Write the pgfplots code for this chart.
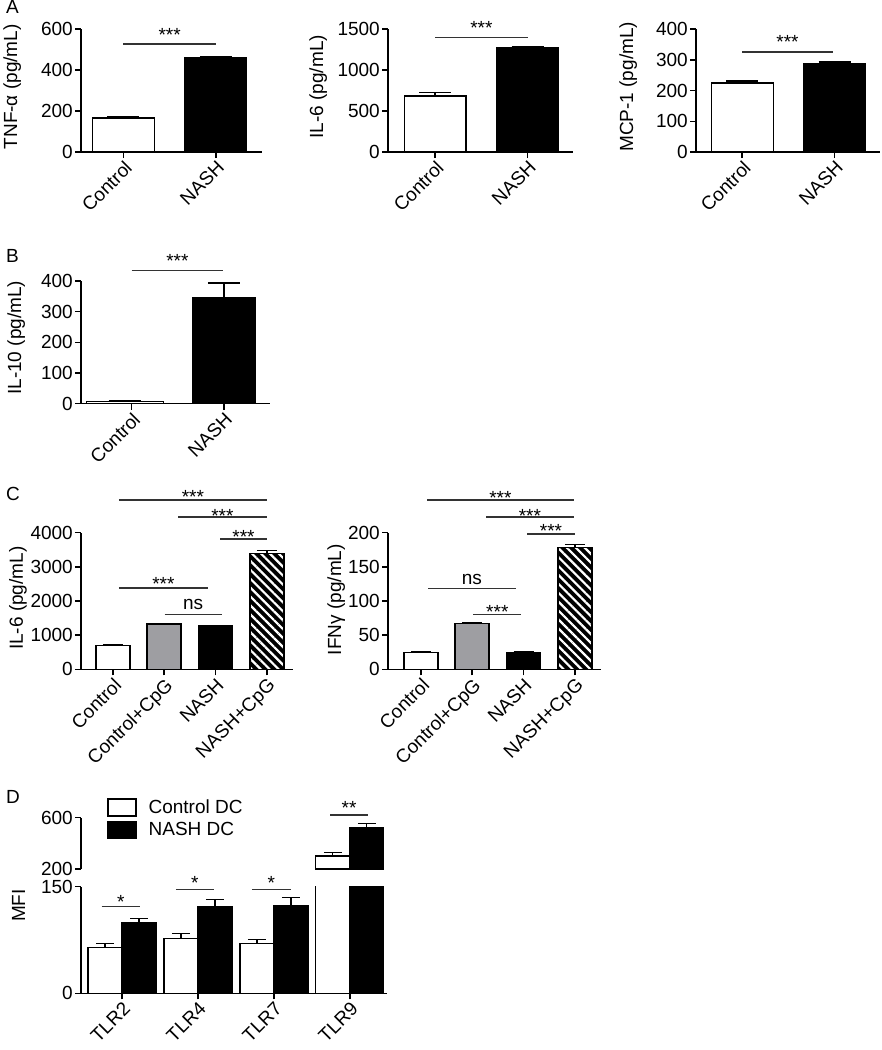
\documentclass[border=0pt]{standalone}
\usepackage{fontspec}
\setmainfont{Liberation Sans}
\usepackage{pgfplots}
\pgfplotsset{compat=1.18}
\usetikzlibrary{patterns.meta}

\definecolor{cpggray}{RGB}{158,158,162}
\newcommand\fs{\fontsize{19bp}{22bp}\selectfont}

% significance bar: x1, x2, y, text, baseline shift
\newcommand\sig[5]{\draw[sigline] (axis cs:#1,#3) -- node[midway, anchor=base, yshift=#5, inner sep=0pt, text=black, font=\fs] {#4} (axis cs:#2,#3);}

\tikzset{sigline/.style={line width=1.5bp, black!80}}

\pgfplotsset{
  panel/.style={
    scale only axis, anchor=south west, clip=false, enlargelimits=false,
    axis x line*=bottom, axis y line*=left,
    tick align=outside, major tick length=6bp,
    axis line style={line width=1.5bp},
    every tick/.style={line width=1.5bp, black},
    ymin=0, scaled y ticks=false,
    /pgf/number format/assume math mode=true,
    /pgf/number format/1000 sep={},
    tick label style={font=\fs},
    yticklabel style={inner sep=2bp},
    xticklabel style={rotate=45, anchor=north east, inner sep=1bp},
    label style={font=\fs},
    ybar,
    every axis plot/.append style={bar shift=0pt, draw=black, line width=1.4bp},
    error bars/y dir=plus, error bars/y explicit,
    error bars/error mark=|,
    error bars/error bar style={line width=1.4bp, black},
    error bars/error mark options={line width=1.4bp, black, mark size=#1},
  },
}

\begin{document}
\begin{tikzpicture}
\path[use as bounding box] (0,0) rectangle (882bp,-1050bp);

\node[anchor=base west, font=\fs, inner sep=0pt] at (6bp,-13bp) {A};
\node[anchor=base west, font=\fs, inner sep=0pt] at (6bp,-262bp) {B};
\node[anchor=base west, font=\fs, inner sep=0pt] at (6bp,-500bp) {C};
\node[anchor=base west, font=\fs, inner sep=0pt] at (6bp,-803bp) {D};

% ---- A: TNF-alpha
\begin{axis}[panel=16bp, at={(81bp,-152bp)}, width=181bp, height=123bp,
  xmin=-0.46, xmax=1.50, ymax=600, ytick={0,200,400,600},
  xtick={0,1}, xticklabels={Control,NASH}, bar width=61.5bp,
  ylabel={TNF-α (pg/mL)},
  ylabel style={at={([xshift=-64bp]axis description cs:0,0.53)}, anchor=base}]
\addplot[fill=white] coordinates {(0,166) +- (0,6)};
\addplot[fill=black] coordinates {(1,459) +- (0,8)};
\sig{0}{1}{527}{***}{2bp}
\end{axis}

% ---- A: IL-6
\begin{axis}[panel=16bp, at={(388bp,-152bp)}, width=185bp, height=123bp,
  xmin=-0.51, xmax=1.49, ymax=1500, ytick={0,500,1000,1500},
  xtick={0,1}, xticklabels={Control,NASH}, bar width=61.5bp,
  ylabel={IL-6 (pg/mL)},
  ylabel style={at={([xshift=-65bp]axis description cs:0,0.53)}, anchor=base}]
\addplot[fill=white] coordinates {(0,683) +- (0,45)};
\addplot[fill=black] coordinates {(1,1272) +- (0,13)};
\sig{0}{1}{1394}{***}{3bp}
\end{axis}

% ---- A: MCP-1
\begin{axis}[panel=16bp, at={(696bp,-152bp)}, width=184bp, height=123bp,
  xmin=-0.50, xmax=1.49, ymax=400, ytick={0,100,200,300,400},
  xtick={0,1}, xticklabels={Control,NASH}, bar width=62bp,
  ylabel={MCP-1 (pg/mL)},
  ylabel style={at={([xshift=-63bp]axis description cs:0,0.53)}, anchor=base}]
\addplot[fill=white] coordinates {(0,224) +- (0,7)};
\addplot[fill=black] coordinates {(1,286) +- (0,7)};
\sig{0}{0.98}{326}{***}{3.5bp}
\end{axis}

% ---- B: IL-10
\begin{axis}[panel=16bp, at={(81bp,-403.7bp)}, width=189bp, height=122.7bp,
  xmin=-0.55, xmax=1.50, ymax=400, ytick={0,100,200,300,400},
  xtick={0,1}, xticklabels={Control,NASH},
  ylabel={IL-10 (pg/mL)},
  ylabel style={at={([xshift=-60bp]axis description cs:0,0.537)}, anchor=base}]
\addplot[fill=white, bar width=77bp, bar shift=-7bp] coordinates {(0,8) +- (0,1)};
\addplot[fill=black, bar width=63bp] coordinates {(1,347) +- (0,47)};
\sig{0}{0.99}{433.6}{***}{3bp}
\end{axis}

% ---- C: IL-6 with CpG
\begin{axis}[panel=10bp, at={(81bp,-669.3bp)}, width=212bp, height=136.7bp,
  xmin=-0.62, xmax=3.51, ymax=4000, ytick={0,1000,2000,3000,4000},
  xtick={0,1,2,3}, xticklabels={Control,Control+CpG,NASH,NASH+CpG},
  bar width=34bp,
  ylabel={IL-6 (pg/mL)},
  ylabel style={at={([xshift=-58bp]axis description cs:0,0.52)}, anchor=base}]
\addplot[fill=white] coordinates {(0,693) +- (0,39)};
\addplot[fill=cpggray] coordinates {(1,1327) +- (0,18)};
\addplot[fill=black] coordinates {(2,1278) +- (0,10)};
\addplot[fill=black, postaction={pattern={Lines[angle=-45,distance=6.3bp,line width=2.2bp]}, pattern color=white}]
  coordinates {(3,3395) +- (0,88)};
\sig{0.12}{3}{4957}{***}{-4bp}
\sig{1.27}{3}{4459}{***}{-5.5bp}
\sig{2.09}{3}{3815}{***}{-4.5bp}
\sig{0.12}{1.85}{2372}{***}{-2bp}
\sig{1.01}{2.12}{1610}{ns}{4.3bp}
\end{axis}

% ---- C: IFN-gamma with CpG
\begin{axis}[panel=10bp, at={(388bp,-669.3bp)}, width=213bp, height=136.7bp,
  xmin=-0.64, xmax=3.51, ymax=200, ytick={0,50,100,150,200},
  xtick={0,1,2,3}, xticklabels={Control,Control+CpG,NASH,NASH+CpG},
  bar width=34bp,
  ylabel={IFNγ (pg/mL)},
  ylabel style={at={([xshift=-47bp]axis description cs:0,0.51)}, anchor=base}]
\addplot[fill=white] coordinates {(0,24.4) +- (0,1.5)};
\addplot[fill=cpggray] coordinates {(1,66.8) +- (0,1)};
\addplot[fill=black] coordinates {(2,24.9) +- (0,0.8)};
\addplot[fill=black, postaction={pattern={Lines[angle=-45,distance=6.3bp,line width=2.2bp]}, pattern color=white}]
  coordinates {(3,178.5) +- (0,4.5)};
\sig{0.12}{2.98}{247.7}{***}{-4.2bp}
\sig{1.27}{2.98}{222.8}{***}{-5.6bp}
\sig{2.07}{3}{198}{***}{-3.6bp}
\sig{0.14}{1.85}{118.1}{ns}{4bp}
\sig{1.02}{1.96}{80}{***}{-3.6bp}
\end{axis}

% ---- D: TLR MFI, lower segment (0-150)
\begin{axis}[panel=9bp, at={(81bp,-993.3bp)}, width=306bp, height=106.7bp,
  xmin=-0.54, xmax=3.49, ymax=150, ytick={0,150},
  xtick={0,1,2,3}, xticklabels={TLR2,TLR4,TLR7,TLR9},
  bar width=34bp, clip=true, clip mode=individual,
  ylabel={MFI},
  ylabel style={at={([xshift=-56bp]axis description cs:0,0.823)}, anchor=base}]
\addplot[fill=white, bar shift=-17bp] coordinates {
  (0,64.2) +- (0,6.1) (1,77.3) +- (0,6.6) (2,69.8) +- (0,6.1) (3,301) +- (0,29)};
\addplot[fill=black, bar shift=17bp] coordinates {
  (0,98.9) +- (0,6.6) (1,121.9) +- (0,9.8) (2,123.75) +- (0,10.75) (3,525) +- (0,31)};
\sig{-0.27}{0.24}{121.9}{*}{-2bp}
\sig{0.71}{1.21}{145.8}{*}{0bp}
\sig{1.71}{2.22}{145.8}{*}{0bp}
\end{axis}

% ---- D: upper segment (200-600), only TLR9 reaches it
\begin{axis}[panel=9bp, at={(81bp,-869bp)}, width=306bp, height=51.3bp,
  xmin=-0.54, xmax=3.49, ymin=200, ymax=600, ytick={200,600},
  axis x line=none, xtick=\empty,
  bar width=34bp, clip=true, clip mode=individual,
  legend style={at={(0.085,1.38)}, anchor=north west, draw=none, fill=none,
    font=\fs, inner sep=0pt, row sep=4bp, nodes={inner sep=1bp},
    /tikz/every odd column/.append style={column sep=11bp}},
  legend cell align=left,
  legend image code/.code={\draw[#1] (0bp,-8.5bp) rectangle (28bp,8.5bp);}]
\addplot[fill=white, bar shift=-17bp] coordinates {(3,301) +- (0,29)};
\addlegendentry{Control DC}
\addplot[fill=black, bar shift=17bp] coordinates {(3,525) +- (0,31)};
\addlegendentry{NASH DC}
\sig{2.74}{3.24}{620.8}{**}{1bp}
\end{axis}
\end{tikzpicture}
\end{document}
